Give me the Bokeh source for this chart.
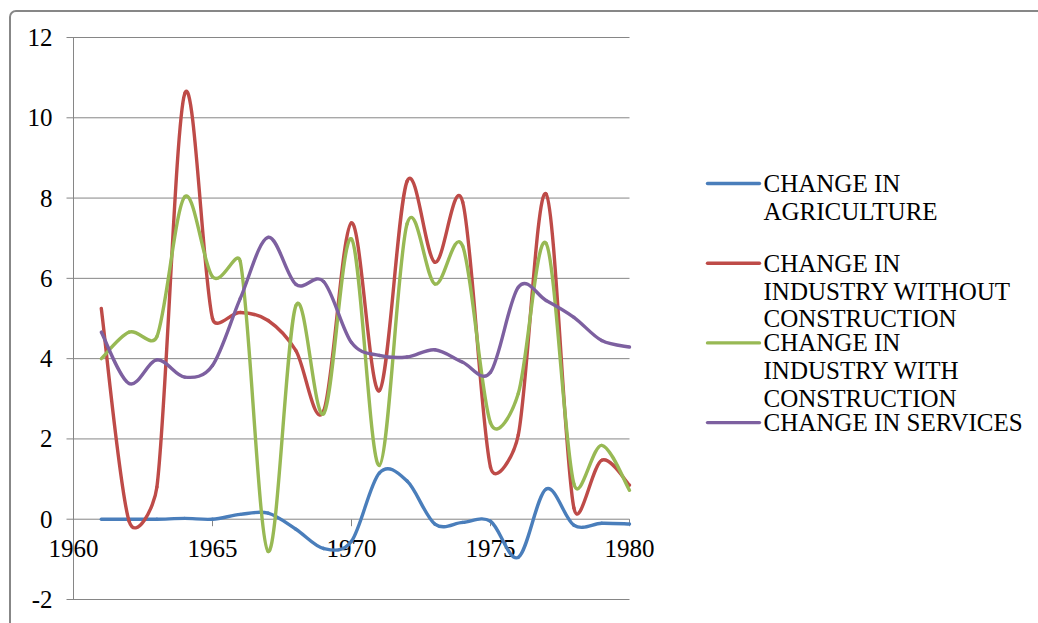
import math
from bokeh.plotting import figure
from bokeh.models import Range1d, ColumnDataSource, BoxAnnotation
from bokeh.core.properties import value
from bokeh.embed import file_html
from bokeh.resources import INLINE

# ---- data -------------------------------------------------------------
years = list(range(1961, 1981))
agriculture = [0.0, 0.0, 0.0, 0.02, 0.0, 0.12, 0.15, -0.25, -0.73, -0.55,
               1.15, 0.95, -0.12, -0.08, -0.05, -0.95, 0.75, -0.15, -0.1, -0.12]
industry_without = [5.25, -0.05, 0.8, 10.6, 5.0, 5.15, 4.95, 4.2, 2.7, 7.38,
                    3.2, 8.42, 6.4, 7.9, 1.3, 2.1, 8.1, 0.28, 1.47, 0.85]
industry_with = [4.0, 4.66, 4.55, 8.03, 6.04, 6.42, -0.8, 5.32, 2.63, 6.98,
                 1.34, 7.36, 5.86, 6.8, 2.4, 3.13, 6.87, 0.88, 1.84, 0.72]
services = [4.66, 3.38, 3.97, 3.54, 3.83, 5.5, 7.02, 5.85, 5.92, 4.4,
            4.08, 4.04, 4.22, 3.91, 3.66, 5.78, 5.45, 5.03, 4.45, 4.29]

series_labels = [
    ["CHANGE IN", "AGRICULTURE"],
    ["CHANGE IN", "INDUSTRY WITHOUT", "CONSTRUCTION"],
    ["CHANGE IN", "INDUSTRY WITH", "CONSTRUCTION"],
    ["CHANGE IN SERVICES"],
]
series_values = [agriculture, industry_without, industry_with, services]
series_colors = ["#4A7EBB", "#BE4B48", "#98B954", "#7D60A0"]

x_ticks = [1960, 1965, 1970, 1975, 1980]
y_ticks = [-2, 0, 2, 4, 6, 8, 10, 12]

# ---- geometry (canvas pixels) ------------------------------------------
W, H = 1038, 623
PL, PR, PT, PB = 73, 629, 37, 599          # plot area edges
FONT = value("Liberation Serif")
FSIZE = value("25px")
GRID = "#868686"
LW = 3.4

sx = (PR - PL) / (x_ticks[-1] - x_ticks[0])   # px per year
sy = (PB - PT) / (y_ticks[-1] - y_ticks[0])   # px per unit

# canvas-pixel ranges for decoration, data ranges for the series
p = figure(width=W, height=H, output_backend="svg", toolbar_location=None,
           x_range=Range1d(0, W), y_range=Range1d(H, 0),
           x_axis_location=None, y_axis_location=None, min_border=0,
           background_fill_color="white", border_fill_color="white")
p.outline_line_color = None
p.grid.visible = False
p.extra_x_ranges = {"yr": Range1d(x_ticks[0] - PL / sx, x_ticks[-1] + (W - PR) / sx)}
p.extra_y_ranges = {"val": Range1d(y_ticks[0] - (H - PB) / sy, y_ticks[-1] + PT / sy)}
D = dict(x_range_name="yr", y_range_name="val")

x0, x1 = x_ticks[0], x_ticks[-1]
y0, y1 = y_ticks[0], y_ticks[-1]

# horizontal gridlines and left ticks
p.segment(x0=[x0 - 7 / sx] * len(y_ticks), x1=[x1] * len(y_ticks),
          y0=y_ticks, y1=y_ticks, line_color=GRID, line_width=1, **D)
# vertical axis line
p.segment(x0=[x0], x1=[x0], y0=[y0], y1=[y1], line_color=GRID, line_width=1, **D)
# y tick labels
p.text(x=[x0] * len(y_ticks), y=y_ticks, text=[str(v) for v in y_ticks],
       x_offset=-21, text_align="right", text_baseline="middle",
       text_font=FONT, text_font_size=FSIZE, text_color="black", **D)
# horizontal axis at zero: ticks and labels
p.segment(x0=x_ticks, x1=x_ticks, y0=[0] * len(x_ticks),
          y1=[-7 / sy] * len(x_ticks), line_color=GRID, line_width=1, **D)
p.text(x=x_ticks, y=[0] * len(x_ticks), text=[str(v) for v in x_ticks],
       y_offset=29, text_align="center", text_baseline="middle",
       text_font=FONT, text_font_size=FSIZE, text_color="black", **D)


# smoothed series: cubic Bezier pieces, handle length limited to half a segment
def bezier_source(xs, ys):
    n = len(xs)
    pts = [(x * sx, y * sy) for x, y in zip(xs, ys)]

    def handle(a, b, seg):
        hx, hy = (b[0] - a[0]) / 6, (b[1] - a[1]) / 6
        ln = math.hypot(hx, hy)
        lim = seg / 2
        if ln > lim and ln > 0:
            hx, hy = hx * lim / ln, hy * lim / ln
        return hx, hy

    d = dict(x0=[], y0=[], x1=[], y1=[], cx0=[], cy0=[], cx1=[], cy1=[])
    for i in range(n - 1):
        P0 = pts[max(i - 1, 0)]
        P1, P2 = pts[i], pts[i + 1]
        P3 = pts[min(i + 2, n - 1)]
        seg = math.hypot(P2[0] - P1[0], P2[1] - P1[1])
        h1 = handle(P0, P2, seg)
        h2 = handle(P1, P3, seg)
        d["x0"].append(xs[i]); d["y0"].append(ys[i])
        d["x1"].append(xs[i + 1]); d["y1"].append(ys[i + 1])
        d["cx0"].append((P1[0] + h1[0]) / sx); d["cy0"].append((P1[1] + h1[1]) / sy)
        d["cx1"].append((P2[0] - h2[0]) / sx); d["cy1"].append((P2[1] - h2[1]) / sy)
    return ColumnDataSource(d)


for vals, col in zip(series_values, series_colors):
    p.bezier(x0="x0", y0="y0", x1="x1", y1="y1", cx0="cx0", cy0="cy0",
             cx1="cx1", cy1="cy1", source=bezier_source(years, vals),
             line_color=col, line_width=LW, line_cap="round", **D)

# chart-area border (top and left edges inside the picture)
p.add_layout(BoxAnnotation(left=9.5, right=W + 40, top=10.5, bottom=H + 40,
                           fill_alpha=0, line_color="#878787", line_alpha=1,
                           line_width=2, border_radius=6))

# legend
entry_y0, entry_step, line_step = 183, 79.7, 27.8
lx0, lx1, tx = 707, 759, 763
sw_y, tx_x, tx_y, tx_t = [], [], [], []
for i, lines in enumerate(series_labels):
    cy = entry_y0 + i * entry_step
    sw_y.append(cy)
    for k, txt in enumerate(lines):
        tx_x.append(tx)
        tx_y.append(cy + k * line_step)
        tx_t.append(txt)
p.segment(x0=[lx0] * 4, x1=[lx1] * 4, y0=sw_y, y1=sw_y,
          line_color=series_colors, line_width=LW, line_cap="round")
p.text(x=tx_x, y=tx_y, text=tx_t, text_align="left", text_baseline="middle",
       text_font=FONT, text_font_size=FSIZE, text_color="black")

open("out.html", "w").write(file_html(p, INLINE))
